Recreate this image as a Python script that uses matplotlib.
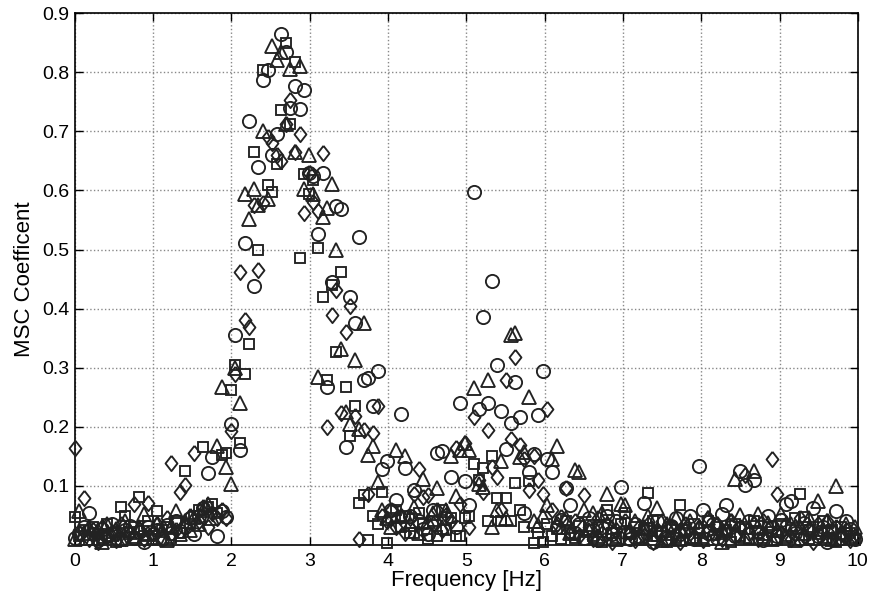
import numpy as np
import matplotlib
matplotlib.use("Agg")
import matplotlib.pyplot as plt

plt.rcParams['font.family'] = ['Liberation Sans', 'DejaVu Sans']

# frequency bins (60/1024 Hz spacing)
freq = np.arange(171) * 60.0 / 1024

msc_circle = [
    0.012, 0.02, 0.03, 0.055, 0.018, 0.008, 0.028, 0.015, 0.035, 0.02, 0.01, 0.025, 0.032, 0.012, 0.022, 0.006, 0.03,
    0.018, 0.026, 0.01, 0.034, 0.02, 0.04, 0.024, 0.03, 0.045, 0.018, 0.05, 0.062, 0.122, 0.149, 0.015, 0.058, 0.048,
    0.204, 0.355, 0.161, 0.511, 0.717, 0.438, 0.64, 0.787, 0.803, 0.66, 0.695, 0.865, 0.835, 0.74, 0.777, 0.738, 0.77,
    0.63, 0.625, 0.527, 0.63, 0.267, 0.445, 0.573, 0.569, 0.166, 0.419, 0.375, 0.521, 0.279, 0.283, 0.235, 0.294, 0.129,
    0.143, 0.06, 0.076, 0.222, 0.131, 0.05, 0.094, 0.04, 0.028, 0.018, 0.06, 0.155, 0.159, 0.045, 0.116, 0.03, 0.241,
    0.108, 0.068, 0.597, 0.23, 0.386, 0.241, 0.446, 0.305, 0.226, 0.162, 0.207, 0.276, 0.217, 0.054, 0.123, 0.154, 0.22,
    0.294, 0.146, 0.123, 0.03, 0.042, 0.096, 0.068, 0.02, 0.035, 0.012, 0.045, 0.025, 0.008, 0.03, 0.05, 0.018, 0.04,
    0.098, 0.022, 0.01, 0.035, 0.015, 0.071, 0.028, 0.005, 0.04, 0.02, 0.012, 0.033, 0.046, 0.018, 0.025, 0.049, 0.01,
    0.133, 0.059, 0.02, 0.035, 0.012, 0.053, 0.067, 0.03, 0.015, 0.125, 0.101, 0.04, 0.11, 0.022, 0.008, 0.05, 0.03,
    0.015, 0.042, 0.069, 0.075, 0.02, 0.01, 0.038, 0.025, 0.063, 0.015, 0.03, 0.006, 0.022, 0.057, 0.012, 0.041, 0.028,
    0.01]

msc_square = [
    0.048, 0.015, 0.025, 0.008, 0.03, 0.018, 0.012, 0.035, 0.02, 0.005, 0.064, 0.05, 0.022, 0.03, 0.081, 0.015, 0.04,
    0.01, 0.058, 0.025, 0.03, 0.012, 0.04, 0.02, 0.125, 0.035, 0.05, 0.06, 0.166, 0.065, 0.07, 0.055, 0.152, 0.155,
    0.263, 0.304, 0.172, 0.29, 0.34, 0.665, 0.50, 0.803, 0.61, 0.597, 0.645, 0.736, 0.85, 0.713, 0.818, 0.486, 0.628,
    0.594, 0.617, 0.503, 0.419, 0.28, 0.44, 0.327, 0.462, 0.267, 0.184, 0.236, 0.071, 0.084, 0.009, 0.05, 0.035, 0.089,
    0.003, 0.045, 0.06, 0.03, 0.05, 0.02, 0.02, 0.055, 0.035, 0.01, 0.04, 0.015, 0.06, 0.025, 0.045, 0.015, 0.015,
    0.045, 0.05, 0.137, 0.11, 0.13, 0.04, 0.151, 0.079, 0.04, 0.079, 0.04, 0.105, 0.06, 0.03, 0.108, 0.003, 0.02,
    0.006, 0.035, 0.015, 0.028, 0.01, 0.04, 0.02, 0.012, 0.032, 0.008, 0.025, 0.015, 0.03, 0.005, 0.06, 0.02, 0.012,
    0.035, 0.055, 0.018, 0.03, 0.01, 0.025, 0.088, 0.04, 0.015, 0.022, 0.006, 0.03, 0.012, 0.068, 0.025, 0.01, 0.035,
    0.02, 0.012, 0.04, 0.008, 0.03, 0.018, 0.025, 0.005, 0.035, 0.015, 0.028, 0.01, 0.04, 0.02, 0.012, 0.03, 0.022,
    0.008, 0.035, 0.015, 0.025, 0.045, 0.086, 0.048, 0.01, 0.03, 0.018, 0.04, 0.012, 0.025, 0.006, 0.03, 0.015, 0.02,
    0.008]

msc_triangle = [
    0.01, 0.057, 0.02, 0.03, 0.012, 0.025, 0.006, 0.035, 0.018, 0.028, 0.01, 0.04, 0.022, 0.015, 0.03, 0.053, 0.02,
    0.012, 0.035, 0.025, 0.008, 0.03, 0.057, 0.018, 0.04, 0.025, 0.048, 0.035, 0.06, 0.07, 0.045, 0.168, 0.267, 0.132,
    0.104, 0.30, 0.24, 0.594, 0.552, 0.603, 0.575, 0.70, 0.585, 0.845, 0.82, 0.835, 0.713, 0.805, 0.665, 0.81, 0.603,
    0.66, 0.594, 0.284, 0.555, 0.57, 0.611, 0.499, 0.332, 0.225, 0.205, 0.313, 0.197, 0.375, 0.152, 0.167, 0.107, 0.06,
    0.045, 0.03, 0.161, 0.05, 0.151, 0.035, 0.065, 0.02, 0.111, 0.04, 0.055, 0.096, 0.03, 0.06, 0.15, 0.083, 0.16,
    0.172, 0.16, 0.266, 0.104, 0.098, 0.28, 0.031, 0.06, 0.143, 0.045, 0.355, 0.359, 0.149, 0.157, 0.25, 0.04, 0.034,
    0.05, 0.068, 0.146, 0.168, 0.03, 0.045, 0.02, 0.127, 0.124, 0.06, 0.025, 0.055, 0.015, 0.055, 0.087, 0.03, 0.01,
    0.07, 0.067, 0.025, 0.04, 0.012, 0.03, 0.05, 0.018, 0.063, 0.008, 0.035, 0.02, 0.045, 0.01, 0.028, 0.04, 0.015,
    0.03, 0.01, 0.045, 0.02, 0.035, 0.006, 0.025, 0.04, 0.112, 0.051, 0.015, 0.03, 0.126, 0.052, 0.02, 0.038, 0.01,
    0.025, 0.052, 0.015, 0.035, 0.008, 0.03, 0.02, 0.045, 0.012, 0.075, 0.028, 0.04, 0.01, 0.10, 0.022, 0.035, 0.015,
    0.03]

msc_diamond = [
    0.164, 0.02, 0.079, 0.01, 0.025, 0.005, 0.03, 0.015, 0.022, 0.008, 0.035, 0.012, 0.02, 0.069, 0.028, 0.01, 0.072,
    0.02, 0.035, 0.012, 0.045, 0.139, 0.025, 0.09, 0.101, 0.05, 0.155, 0.04, 0.065, 0.03, 0.055, 0.045, 0.06, 0.045,
    0.193, 0.29, 0.462, 0.381, 0.369, 0.575, 0.466, 0.578, 0.69, 0.68, 0.66, 0.65, 0.713, 0.753, 0.665, 0.695, 0.562,
    0.63, 0.58, 0.566, 0.663, 0.20, 0.389, 0.431, 0.223, 0.36, 0.404, 0.219, 0.011, 0.194, 0.087, 0.19, 0.235, 0.05,
    0.04, 0.06, 0.03, 0.05, 0.02, 0.045, 0.087, 0.129, 0.082, 0.085, 0.035, 0.06, 0.025, 0.051, 0.04, 0.165, 0.07,
    0.172, 0.03, 0.217, 0.11, 0.09, 0.194, 0.132, 0.116, 0.06, 0.279, 0.179, 0.319, 0.17, 0.145, 0.093, 0.151, 0.11,
    0.087, 0.23, 0.06, 0.035, 0.048, 0.096, 0.02, 0.04, 0.015, 0.084, 0.03, 0.01, 0.045, 0.02, 0.035, 0.006, 0.025,
    0.012, 0.04, 0.02, 0.008, 0.03, 0.015, 0.035, 0.005, 0.025, 0.04, 0.01, 0.03, 0.018, 0.006, 0.035, 0.02, 0.012,
    0.03, 0.008, 0.045, 0.02, 0.035, 0.01, 0.025, 0.04, 0.015, 0.03, 0.118, 0.02, 0.035, 0.01, 0.04, 0.025, 0.146,
    0.087, 0.02, 0.035, 0.01, 0.03, 0.045, 0.015, 0.025, 0.005, 0.035, 0.02, 0.04, 0.01, 0.03, 0.018, 0.025, 0.008,
    0.015]

xticks = list(range(0, 11))
yticks = [0.1, 0.2, 0.3, 0.4, 0.5, 0.6, 0.7, 0.8, 0.9]

# tall diamond like the matlab one
diamond = [(0, 1), (0.78, 0), (0, -1), (-0.78, 0), (0, 1)]

fig = plt.figure(figsize=(8.7, 5.97), dpi=100)
ax = fig.add_axes([0.086, 0.087, 0.900, 0.891])

series = [(msc_circle, 'o', 9.5), (msc_square, 's', 7.8),
          (msc_triangle, '^', 9.5), (msc_diamond, diamond, 11)]
for vals, mk, ms in series:
    ax.plot(freq, vals, linestyle='none', marker=mk, markersize=ms,
            markerfacecolor='none', markeredgecolor='#222222',
            markeredgewidth=1.35, clip_on=False, zorder=3)

ax.set_xlim(0, 10)
ax.set_ylim(0, 0.9)
ax.set_xticks(xticks)
ax.set_xticklabels([str(t) for t in xticks])
ax.set_yticks(yticks)
ax.set_yticklabels(["%.1f" % t for t in yticks])
ax.tick_params(direction='in', top=True, right=True, length=6, width=1,
               labelsize=14)
ax.tick_params(axis='x', pad=6)
ax.tick_params(axis='y', pad=4)
ax.grid(True, linestyle=':', color='#888888', linewidth=1)
for sp in ax.spines.values():
    sp.set_linewidth(1.2)
ax.set_xlabel("Frequency [Hz]", fontsize=16, labelpad=0)
ax.set_ylabel("MSC Coefficent", fontsize=16, labelpad=5)

fig.savefig("out.png", dpi=100)
